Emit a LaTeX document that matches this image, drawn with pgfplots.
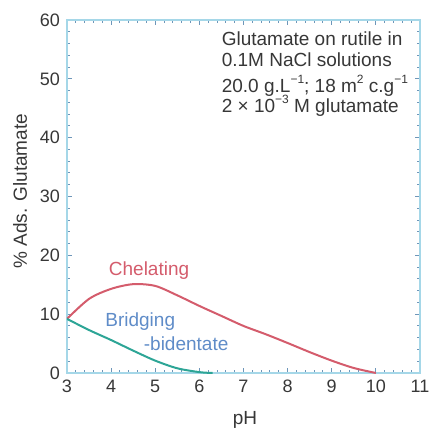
\documentclass[border=0pt]{standalone}
\usepackage{pgfplots}
\pgfplotsset{compat=1.18}
\usepackage{fontspec}
\setmainfont{Liberation Sans}
\definecolor{frame}{RGB}{165,215,232}
\definecolor{tickc}{RGB}{110,150,185}
\definecolor{chel}{RGB}{212,92,108}
\definecolor{brid}{RGB}{45,165,150}
\definecolor{bridtxt}{RGB}{95,140,200}
\definecolor{txt}{RGB}{55,55,55}
\newcommand{\mysup}[1]{\raisebox{0.9ex}{\fontsize{6}{6}\selectfont #1}}
\begin{document}
\begin{tikzpicture}
\path[use as bounding box] (-33.5pt,-30pt) rectangle (181pt,186.5pt);
\begin{axis}[
  scale only axis,
  width=176.5pt, height=176.5pt,
  xmin=3, xmax=11, ymin=0, ymax=60,
  xtick={3,4,...,11}, ytick={0,10,...,60},
  minor x tick num=4, minor y tick num=4,
  tick align=inside,
  major tick length=2.5pt, minor tick length=1.4pt,
  tick style={tickc, line width=0.5pt},
  axis line style={frame, line width=1.3pt},
  ticklabel style={font=\fontsize{9}{10}\selectfont, text=txt},
  /pgf/number format/assume math mode=true,
  xlabel={pH}, ylabel={\% Ads. Glutamate},
  label style={font=\fontsize{9.5}{11}\selectfont, text=txt},
  xlabel style={at={(axis description cs:0.504,-0.133)}, anchor=center},
  ylabel style={at={(axis description cs:-0.133,0.515)}, anchor=center},
]
\addplot[chel, line width=1pt, smooth, tension=0.5] coordinates {
 (3,9.2) (3.5,12.6) (4,14.3) (4.5,15.1) (5,14.8) (5.5,13.2) (6,11.4)
 (6.5,9.7) (7,8.0) (7.5,6.6) (8,5.1) (8.5,3.55) (9,2.1) (9.5,0.85) (10,0)
};
\addplot[brid, line width=1pt, smooth, tension=0.5] coordinates {
 (3,9.2) (3.5,7.3) (4,5.6) (4.5,3.8) (5,2.1) (5.5,0.8) (6,0.15) (6.3,0)
};
\node[text=chel, font=\fontsize{9.5}{11}\selectfont] at (axis cs:4.86,17.4) {Chelating};
\node[text=bridtxt, font=\fontsize{9.5}{11}\selectfont] at (axis cs:4.66,8.7) {Bridging};
\node[text=bridtxt, font=\fontsize{9.5}{11}\selectfont] at (axis cs:5.7,4.95) {-bidentate};
\begin{scope}[every node/.style={anchor=west, text=txt, font=\fontsize{9.5}{11}\selectfont, inner sep=0pt}]
\node at (axis cs:6.5,56.9) {Glutamate on rutile in};
\node at (axis cs:6.5,53.2) {0.1M NaCl solutions};
\node at (axis cs:6.5,48.9) {20.0 g.L\mysup{−1}; 18 m\mysup{2} c.g\mysup{−1}};
\node at (axis cs:6.5,45.4) {2 × 10\mysup{−3} M glutamate};
\end{scope}
\end{axis}
\end{tikzpicture}
\end{document}
